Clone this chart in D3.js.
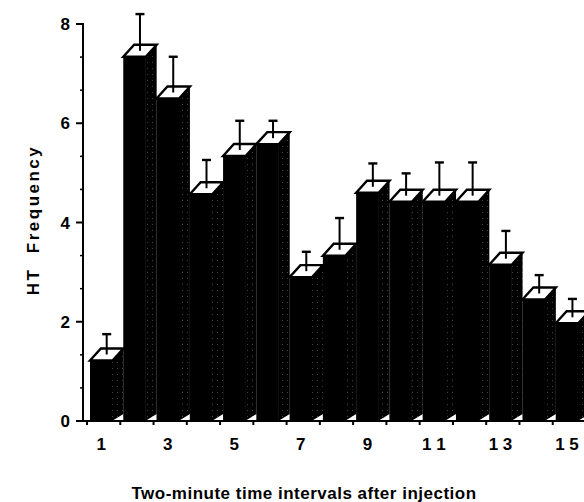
<!DOCTYPE html>
<html><head><meta charset="utf-8">
<script src="https://cdn.jsdelivr.net/npm/d3@7"></script>
<style>body{margin:0;background:#fff}svg{display:block}text{font-family:"Liberation Sans",Arial,Helvetica,sans-serif;font-weight:bold;fill:#000}</style>
</head><body>
<script>
const intervals = [1,2,3,4,5,6,7,8,9,10,11,12,13,14,15];
const htFrequency = [1.34, 7.46, 6.62, 4.69, 5.46, 5.70, 3.02, 3.45, 4.72, 4.54, 4.54, 4.54, 3.27, 2.57, 2.09];
const errors = [0.41, 0.74, 0.72, 0.57, 0.59, 0.35, 0.39, 0.64, 0.47, 0.45, 0.67, 0.67, 0.56, 0.37, 0.37];
const xTickValues = [1,3,5,7,9,11,13,15];
const xTickLabels = ["1","3","5","7","9","1 1","1 3","1 5"];
const yTickValues = [0,2,4,6,8];
const yMinorTicks = [2/3,4/3,8/3,10/3,14/3,16/3,20/3,22/3];

const W = 584, H = 502;
const svg = d3.select("body").append("svg").attr("width", W).attr("height", H);
const defs = svg.append("defs");
const pat = defs.append("pattern").attr("id","stip").attr("width",5).attr("height",6).attr("patternUnits","userSpaceOnUse");
pat.append("rect").attr("width",5).attr("height",6).attr("fill","#000");
pat.append("rect").attr("x",2).attr("y",2).attr("width",1).attr("height",1).attr("fill","#444");

const x = d3.scaleBand().domain(intervals).range([87, 586]).padding(0);
const y = d3.scaleLinear().domain([0, 8]).range([421, 24]);
const fw = 22.5, dx = 10.9, dy = 12, off = 3;

const g = svg.append("g");
intervals.forEach((iv, i) => {
  const v = htFrequency[i], e = errors[i];
  const xl = x(iv) + off, xr = xl + fw;
  const cy = y(v), ft = cy + dy/2, y0 = y(0);
  g.append("rect").attr("x", xl).attr("y", ft).attr("width", fw).attr("height", y0 - ft).attr("fill", "#000");
  g.append("path").attr("d", `M${xr-0.5},${ft}L${xr+dx},${ft-dy}L${xr+dx},${y0-7}L${xr-0.5},${y0}Z`).attr("fill", "url(#stip)");
  g.append("path").attr("d", `M${xl},${ft}L${xl+dx},${ft-dy}L${xr+dx},${ft-dy}L${xr},${ft}Z`)
    .attr("fill", "#fff").attr("stroke", "#000").attr("stroke-width", 2.4).attr("stroke-linejoin","miter");
  const ex = xl + (fw + dx)/2;
  g.append("line").attr("x1", ex).attr("x2", ex).attr("y1", cy).attr("y2", y(v + e)).attr("stroke", "#000").attr("stroke-width", 2);
  g.append("line").attr("x1", ex-4.5).attr("x2", ex+4.5).attr("y1", y(v+e)).attr("y2", y(v+e)).attr("stroke", "#000").attr("stroke-width", 2.4);
});

const ax = svg.append("g");
ax.append("line").attr("x1", 83).attr("x2", 83).attr("y1", y(8)-1).attr("y2", y(0)+1).attr("stroke","#000").attr("stroke-width",2);
yTickValues.forEach(t => {
  ax.append("line").attr("x1", 76).attr("x2", 83).attr("y1", y(t)).attr("y2", y(t)).attr("stroke","#000").attr("stroke-width",2);
  ax.append("text").attr("x", 70).attr("y", y(t)).attr("dy","0.36em").attr("text-anchor","end").attr("font-size",17).text(t);
});
yMinorTicks.forEach(t => {
  ax.append("line").attr("x1", 80).attr("x2", 83).attr("y1", y(t)).attr("y2", y(t)).attr("stroke","#000").attr("stroke-width",1.5);
});
ax.append("line").attr("x1", 82).attr("x2", 584).attr("y1", y(0)).attr("y2", y(0)).attr("stroke","#000").attr("stroke-width",2);
for (let k = 0; k <= 15; k++) {
  const tx = 87 + k * x.step();
  ax.append("line").attr("x1", tx).attr("x2", tx).attr("y1", y(0)).attr("y2", y(0)+4).attr("stroke","#000").attr("stroke-width",2);
}
xTickValues.forEach((t, i) => {
  ax.append("text").attr("x", x(t) + off + fw/2).attr("y", 450).attr("text-anchor","middle").attr("font-size",17).text(xTickLabels[i]);
});

svg.append("text").attr("transform","translate(39,220) rotate(-90)").attr("text-anchor","middle")
  .attr("font-size",17).attr("letter-spacing","2.5px").style("white-space","pre").text("HT  Frequency");
svg.append("text").attr("x", 304).attr("y", 499).attr("text-anchor","middle").attr("font-size",17).attr("letter-spacing","0.5px").text("Two-minute time intervals after injection");
</script>
</body></html>
